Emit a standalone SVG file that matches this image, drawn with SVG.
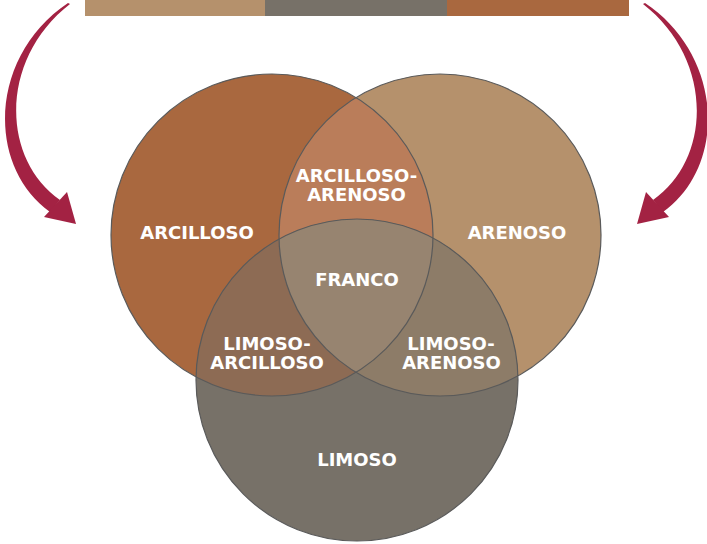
<svg xmlns="http://www.w3.org/2000/svg" width="707" height="544" viewBox="0 0 707 544">
<style>
.lbl{font-family:"DejaVu Sans","Liberation Sans",sans-serif;font-weight:bold;font-size:18px;fill:#ffffff;text-anchor:middle}
.ring{fill:none;stroke:#5a5a5a;stroke-width:1.2}
.arrow{fill:#a32243}
</style>
<defs>
<clipPath id="clipL"><circle cx="272" cy="235" r="161"/></clipPath>
<clipPath id="clipR"><circle cx="440" cy="235" r="161"/></clipPath>
<clipPath id="clipB"><circle cx="357" cy="380" r="161"/></clipPath>
<g id="arrowShape">
<path d="M68,3 C-10,55 -15,165 50,212 L60,200 C0,158 0,58 70,4 Z"/>
<polygon points="44,217 76,224 67,192"/>
</g>
</defs>
<g id="legend-bar">
<rect x="85" y="0" width="180" height="16" fill="#b5916c"/>
<rect x="265" y="0" width="182" height="16" fill="#777168"/>
<rect x="447" y="0" width="182" height="16" fill="#a9683f"/>
</g>
<g id="connectors">
<use href="#arrowShape" class="arrow"/>
<use href="#arrowShape" class="arrow" transform="translate(713,0) scale(-1,1)"/>
</g>
<g id="arcilloso">
<circle cx="272" cy="235" r="161" fill="#a9683f"/>
</g>
<g id="arenoso">
<circle cx="440" cy="235" r="161" fill="#b5916c"/>
</g>
<g id="limoso">
<circle cx="357" cy="380" r="161" fill="#777168"/>
</g>
<g id="arcilloso-arenoso">
<circle cx="440" cy="235" r="161" fill="#ba7d5a" clip-path="url(#clipL)"/>
</g>
<g id="limoso-arcilloso">
<circle cx="357" cy="380" r="161" fill="#8d6b54" clip-path="url(#clipL)"/>
</g>
<g id="limoso-arenoso">
<circle cx="357" cy="380" r="161" fill="#8d7c68" clip-path="url(#clipR)"/>
</g>
<g id="franco">
<g clip-path="url(#clipR)"><circle cx="357" cy="380" r="161" fill="#978470" clip-path="url(#clipL)"/></g>
</g>
<g id="outlines">
<circle class="ring" cx="272" cy="235" r="161"/>
<circle class="ring" cx="440" cy="235" r="161"/>
<circle class="ring" cx="357" cy="380" r="161"/>
</g>
<g id="labels">
<text class="lbl" x="197" y="238.5">ARCILLOSO</text>
<text class="lbl" x="517" y="238.5">ARENOSO</text>
<text class="lbl" x="356.5" y="181.5">ARCILLOSO-</text>
<text class="lbl" x="356.5" y="200.5">ARENOSO</text>
<text class="lbl" x="357" y="285.5">FRANCO</text>
<text class="lbl" x="267" y="350">LIMOSO-</text>
<text class="lbl" x="267" y="369">ARCILLOSO</text>
<text class="lbl" x="451" y="350">LIMOSO-</text>
<text class="lbl" x="451.5" y="369">ARENOSO</text>
<text class="lbl" x="357" y="466">LIMOSO</text>
</g>
</svg>
